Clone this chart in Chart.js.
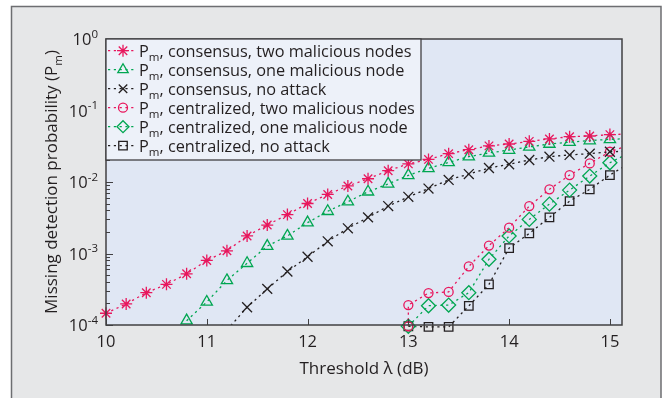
<!DOCTYPE html>
<html><head><meta charset="utf-8">
<script src="https://cdn.jsdelivr.net/npm/chart.js@4.4.0/dist/chart.umd.min.js"></script>
<style>html,body{margin:0;padding:0;background:#fff;}#wrap{width:669px;height:398px;}</style>
</head><body><div id="wrap"><canvas id="c" width="669" height="398"></canvas></div>
<script>
// ---------- data ----------
const thresholds = [10.0,10.2,10.4,10.6,10.8,11.0,11.2,11.4,11.6,11.8,12.0,12.2,12.4,12.6,12.8,13.0,13.2,13.4,13.6,13.8,14.0,14.2,14.4,14.6,14.8,15.0,15.2];
const centralThresholds = [13.0,13.0,13.2,13.4,13.6,13.8,14.0,14.2,14.4,14.6,14.8,15.0,15.2];
const xTickValues = [10,11,12,13,14,15];
const yTickExponents = [0,-1,-2,-3,-4];
const seriesLabels = [
  'consensus, two malicious nodes',
  'consensus, one malicious node',
  'consensus, no attack',
  'centralized, two malicious nodes',
  'centralized, one malicious node',
  'centralized, no attack'
];
const consensusTwo = [1.46e-4,1.97e-4,2.83e-4,3.7e-4,5.2e-4,8.0e-4,1.09e-3,1.76e-3,2.5e-3,3.5e-3,5.0e-3,6.7e-3,8.8e-3,1.11e-2,1.44e-2,1.79e-2,2.07e-2,2.49e-2,2.83e-2,3.2e-2,3.4e-2,3.7e-2,4.0e-2,4.3e-2,4.4e-2,4.6e-2,4.7e-2];
const consensusOne = [null,null,null,null,1.15e-4,2.1e-4,4.2e-4,7.3e-4,1.27e-3,1.76e-3,2.7e-3,3.9e-3,5.3e-3,7.3e-3,9.4e-3,1.24e-2,1.55e-2,1.88e-2,2.26e-2,2.55e-2,2.8e-2,3.1e-2,3.4e-2,3.6e-2,3.8e-2,3.95e-2,4.05e-2];
const consensusNone = [null,null,null,null,null,null,8.5e-5,1.77e-4,3.2e-4,5.6e-4,9.0e-4,1.48e-3,2.25e-3,3.2e-3,4.6e-3,6.2e-3,8.1e-3,1.07e-2,1.29e-2,1.57e-2,1.77e-2,2.03e-2,2.26e-2,2.39e-2,2.49e-2,2.65e-2,2.7e-2];
const centralTwo = [9.6e-5,1.9e-4,2.8e-4,2.9e-4,6.6e-4,1.29e-3,2.3e-3,4.6e-3,7.9e-3,1.25e-2,1.82e-2,2.65e-2,3.3e-2];
const centralOne = [9.6e-5,null,1.86e-4,1.9e-4,2.83e-4,8.3e-4,1.76e-3,3.0e-3,4.9e-3,7.7e-3,1.21e-2,1.86e-2,2.6e-2];
const centralNone = [9.6e-5,null,9.4e-5,9.4e-5,1.85e-4,3.7e-4,1.19e-3,1.91e-3,3.2e-3,5.4e-3,7.9e-3,1.25e-2,1.85e-2];

// ---------- styling ----------
const RED = '#e8175d', GREEN = '#00a651', BLACK = '#231f20';
const FONT = 'Open Sans';
const DASH = [2.2, 3.6];
function pts(xs, ys){ return xs.map((x,i)=>({x:x, y:ys[i]})); }
function ds(label, xs, ys, color, style, radius, clipBottom){
  return {
    label: label, data: pts(xs, ys), borderColor: color, backgroundColor: 'rgba(0,0,0,0)',
    borderWidth: 1.3, borderDash: DASH, fill: false, tension: 0, spanGaps: true,
    pointStyle: style, pointRadius: radius, pointBorderWidth: 1.3,
    pointBorderColor: color, pointBackgroundColor: 'rgba(0,0,0,0)',
    clip: {left: 10, right: 0, top: 0, bottom: clipBottom}
  };
}
const datasets = [
  ds(seriesLabels[0], thresholds, consensusTwo, RED, 'star', 6, 10),
  ds(seriesLabels[1], thresholds, consensusOne, GREEN, 'triangle', 6.5, 10),
  ds(seriesLabels[2], thresholds, consensusNone, BLACK, 'crossRot', 7, 0),
  ds(seriesLabels[3], centralThresholds, centralTwo, RED, 'circle', 4.5, 10),
  ds(seriesLabels[4], centralThresholds, centralOne, GREEN, 'rectRot', 7, 10),
  ds(seriesLabels[5], centralThresholds, centralNone, BLACK, 'rect', 6, 10)
];

function drawMarker(ctx, style, r, x, y, color){
  ctx.save();
  ctx.setLineDash([]);
  ctx.strokeStyle = color; ctx.fillStyle = 'rgba(0,0,0,0)'; ctx.lineWidth = 1.3;
  Chart.helpers.drawPoint(ctx, {pointStyle: style, radius: r, borderWidth: 1.3, rotation: 0}, x, y);
  ctx.restore();
}

const LEG = 16.3, SUB = 11.5, TICK = 16.5, TITLE = 17;
const decor = {
  id: 'decor',
  beforeDraw(chart){
    const ctx = chart.ctx, a = chart.chartArea;
    ctx.save();
    ctx.fillStyle = '#ffffff'; ctx.fillRect(0,0,chart.width,chart.height);
    ctx.fillStyle = '#e6e7e8'; ctx.fillRect(11.5,6.5,649.5,400);
    ctx.strokeStyle = '#6d6e71'; ctx.lineWidth = 1.5; ctx.strokeRect(11.5,6.5,649.5,400);
    ctx.fillStyle = '#e0e7f4'; ctx.fillRect(a.left,a.top,a.right-a.left,a.bottom-a.top);
    ctx.restore();
  },
  afterDatasetsDraw(chart){
    const ctx = chart.ctx, a = chart.chartArea;
    const xs = chart.scales.x, ys = chart.scales.y;
    ctx.save();
    // ticks (inward)
    ctx.strokeStyle = '#414042'; ctx.lineWidth = 1;
    xTickValues.forEach(v=>{
      const px = Math.round(xs.getPixelForValue(v))+0.5;
      ctx.beginPath(); ctx.moveTo(px,a.bottom); ctx.lineTo(px,a.bottom-6); ctx.stroke();
    });
    yTickExponents.forEach(e=>{
      for(let m=1;m<10;m++){
        const v = m*Math.pow(10,e);
        if (v>1.0001) break;
        const py = Math.round(ys.getPixelForValue(v))+0.5;
        ctx.beginPath(); ctx.moveTo(a.left,py); ctx.lineTo(a.left+(m===1?7:4),py); ctx.stroke();
      }
    });
    // y tick labels with superscript exponent
    ctx.fillStyle = BLACK; ctx.textBaseline = 'alphabetic';
    yTickExponents.forEach(e=>{
      const py = ys.getPixelForValue(Math.pow(10,e));
      ctx.font = TICK+'px "'+FONT+'"';
      const wb = ctx.measureText('10').width;
      ctx.font = SUB+'px "'+FONT+'"';
      const es = String(e);
      const we = ctx.measureText(es).width;
      const right = 98;
      ctx.font = TICK+'px "'+FONT+'"';
      ctx.textAlign = 'left';
      ctx.fillText('10', right-we-wb, py+6);
      ctx.font = SUB+'px "'+FONT+'"';
      ctx.fillText(es, right-we, py-1.5);
    });
    // y title with subscript
    ctx.save();
    ctx.translate(51, (a.top+a.bottom)/2);
    ctx.rotate(-Math.PI/2);
    const t1 = 'Missing detection probability (P', t2 = 'm', t3 = ')';
    ctx.font = TITLE+'px "'+FONT+'"'; const w1 = ctx.measureText(t1).width, w3 = ctx.measureText(t3).width;
    ctx.font = SUB+'px "'+FONT+'"'; const w2 = ctx.measureText(t2).width;
    let sx = -(w1+w2+w3)/2;
    ctx.textAlign = 'left';
    ctx.font = TITLE+'px "'+FONT+'"'; ctx.fillText(t1, sx, 6); sx += w1;
    ctx.font = SUB+'px "'+FONT+'"'; ctx.fillText(t2, sx, 10.5); sx += w2;
    ctx.font = TITLE+'px "'+FONT+'"'; ctx.fillText(t3, sx, 6);
    ctx.restore();
    // plot border
    ctx.strokeStyle = '#414042'; ctx.lineWidth = 1.5;
    ctx.strokeRect(a.left, a.top, a.right-a.left, a.bottom-a.top);
    // legend
    const lx = a.left, ly = a.top, lw = 315, lh = 121;
    ctx.fillStyle = '#edf1f9'; ctx.fillRect(lx, ly, lw, lh);
    ctx.strokeStyle = '#414042'; ctx.lineWidth = 1.3; ctx.strokeRect(lx, ly, lw, lh);
    chart.data.datasets.forEach((d,i)=>{
      const ry = ly + 11.7 + i*19;
      ctx.save();
      ctx.strokeStyle = d.borderColor; ctx.lineWidth = 1.3; ctx.setLineDash(DASH);
      ctx.beginPath(); ctx.moveTo(lx+2, ry); ctx.lineTo(lx+31, ry); ctx.stroke();
      ctx.restore();
      drawMarker(ctx, d.pointStyle, Math.min(d.pointRadius,6), lx+17, ry, d.borderColor);
      let tx = lx + 33;
      ctx.fillStyle = BLACK; ctx.textAlign = 'left';
      ctx.font = LEG+'px "'+FONT+'"'; ctx.fillText('P', tx, ry+6); tx += ctx.measureText('P').width;
      ctx.font = SUB+'px "'+FONT+'"'; ctx.fillText('m', tx, ry+10.5); tx += ctx.measureText('m').width;
      ctx.font = LEG+'px "'+FONT+'"'; ctx.fillText(', '+d.label, tx, ry+6);
    });
    ctx.restore();
  }
};

new Chart(document.getElementById('c'), {
  type: 'line',
  data: { datasets: datasets },
  plugins: [decor],
  options: {
    responsive: false, animation: false, devicePixelRatio: 1,
    layout: { padding: { left: 0, right: 47, top: 39, bottom: 0 } },
    plugins: { legend: { display: false }, tooltip: { enabled: false } },
    scales: {
      x: {
        type: 'linear', min: 10, max: 15.12,
        afterBuildTicks: s => { s.ticks = xTickValues.map(v => ({ value: v })); },
        afterFit: s => { s.height = 73; },
        grid: { display: false, drawTicks: false }, border: { display: false },
        ticks: { font: { family: FONT, size: TICK }, color: BLACK, padding: 7, maxRotation: 0, autoSkip: false },
        title: { display: true, text: 'Threshold λ (dB)', font: { family: FONT, size: TITLE }, color: BLACK, padding: { top: 19, bottom: 19 } }
      },
      y: {
        type: 'logarithmic', min: 1e-4, max: 1,
        afterFit: s => { s.width = 106; },
        ticks: { display: false }, grid: { display: false, drawTicks: false }, border: { display: false }
      }
    }
  }
});
</script></body></html>
